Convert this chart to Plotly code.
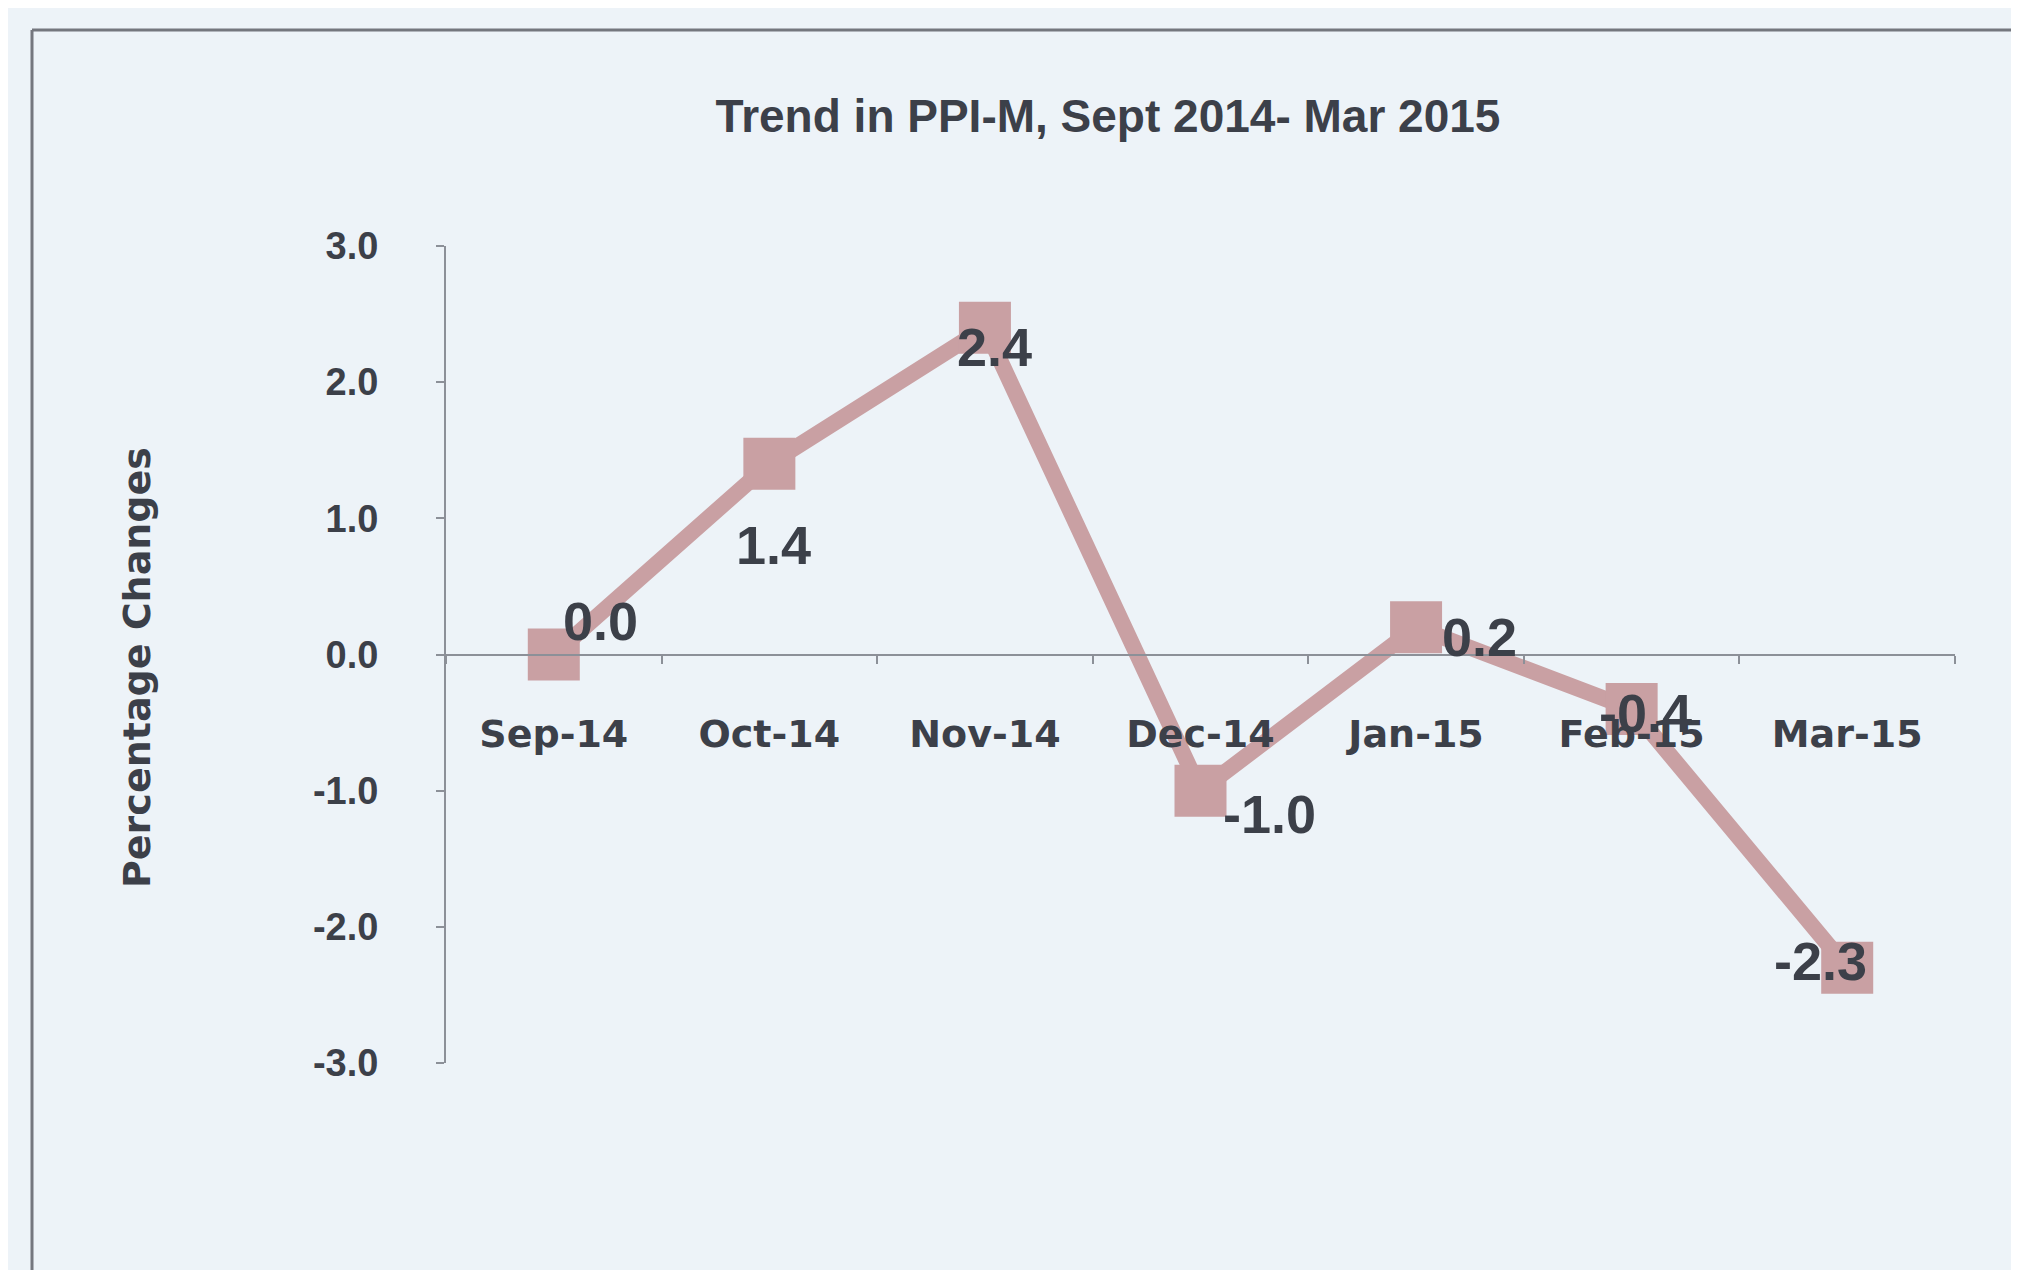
import plotly.graph_objects as go

# ---- data ----
months = ["Sep-14", "Oct-14", "Nov-14", "Dec-14", "Jan-15", "Feb-15", "Mar-15"]
pct_change = [0.0, 1.4, 2.4, -1.0, 0.2, -0.4, -2.3]
y_tick_vals = [3, 2, 1, 0, -1, -2, -3]
y_tick_text = ["3.0", "2.0", "1.0", "0.0", "-1.0", "-2.0", "-3.0"]
chart_title = "Trend in PPI-M, Sept 2014- Mar 2015"
y_title = "Percentage Changes"

# ---- styling ----
W, H = 2019, 1270
ML, MR, MT, MB = 438, 72, 238, 215
BG = "rgb(237,243,248)"
LINE_COLOR = "rgb(201,160,163)"
TEXT_COLOR = "#3c4049"
AXIS_COLOR = "#8c9098"

# pixel offsets of data labels relative to their points
label_shifts = [(47, 34), (4, -81), (10, -19), (69, -23), (63, -10), (14, -4), (-27, 7)]

fig = go.Figure()
fig.add_trace(go.Scatter(
    x=months, y=pct_change, mode="lines+markers",
    line=dict(color=LINE_COLOR, width=16),
    marker=dict(symbol="square", size=52, color=LINE_COLOR),
    showlegend=False, hoverinfo="x+y",
))

for m, v, (dx, dy) in zip(months, pct_change, label_shifts):
    fig.add_annotation(
        x=m, y=v, xref="x", yref="y", text=f"{v:.1f}", showarrow=False,
        xshift=dx, yshift=dy, xanchor="center", yanchor="middle",
        font=dict(family="Liberation Sans, Arial, sans-serif", size=54,
                  color=TEXT_COLOR, weight="bold"),
    )

pw = W - ML - MR
ph = H - MT - MB

def px_to_paper_x(px):
    return (px - ML) / pw

def px_to_paper_y(py):
    return (H - MB - py) / ph

# y axis title
fig.add_annotation(
    x=px_to_paper_x(129), y=px_to_paper_y(660), xref="paper", yref="paper",
    text=y_title, showarrow=False, textangle=-90,
    xanchor="center", yanchor="middle",
    font=dict(family="DejaVu Sans, sans-serif", size=38, color=TEXT_COLOR, weight="bold"),
)

# outer frame (left and top edges)
frame_color = "#74777e"
fig.add_shape(type="line", xref="paper", yref="paper",
              x0=px_to_paper_x(24), x1=px_to_paper_x(W + 5),
              y0=px_to_paper_y(22), y1=px_to_paper_y(22),
              line=dict(color=frame_color, width=3))
fig.add_shape(type="line", xref="paper", yref="paper",
              x0=px_to_paper_x(24), x1=px_to_paper_x(24),
              y0=px_to_paper_y(22), y1=px_to_paper_y(H + 5),
              line=dict(color=frame_color, width=3))

fig.update_layout(
    width=W, height=H,
    margin=dict(l=ML, r=MR, t=MT, b=MB, autoexpand=False),
    paper_bgcolor=BG, plot_bgcolor=BG,
    title=dict(
        text=chart_title, xref="container", yref="container",
        x=1100 / W, y=1 - 108 / H, xanchor="center", yanchor="middle",
        font=dict(family="Liberation Sans, Arial, sans-serif", size=46,
                  color=TEXT_COLOR, weight="bold"),
    ),
    xaxis=dict(
        type="category", range=[-0.5, len(months) - 0.5],
        anchor="free", position=0.5,
        showline=True, linecolor=AXIS_COLOR, linewidth=2,
        ticks="outside", ticklen=8, tickwidth=2, tickcolor=AXIS_COLOR,
        tickson="boundaries", showgrid=False, zeroline=False,
        ticklabelstandoff=46,
        tickfont=dict(family="DejaVu Sans, sans-serif", size=38,
                      color=TEXT_COLOR, weight="bold"),
    ),
    yaxis=dict(
        range=[-3, 3], domain=[0, 1],
        tickvals=y_tick_vals, ticktext=y_tick_text,
        showline=True, linecolor=AXIS_COLOR, linewidth=2,
        ticks="outside", ticklen=8, tickwidth=2, tickcolor=AXIS_COLOR,
        showgrid=False, zeroline=False,
        ticklabelstandoff=50,
        tickfont=dict(family="Liberation Sans, Arial, sans-serif", size=38,
                      color=TEXT_COLOR, weight="bold"),
    ),
)

fig.write_html("out.html")
